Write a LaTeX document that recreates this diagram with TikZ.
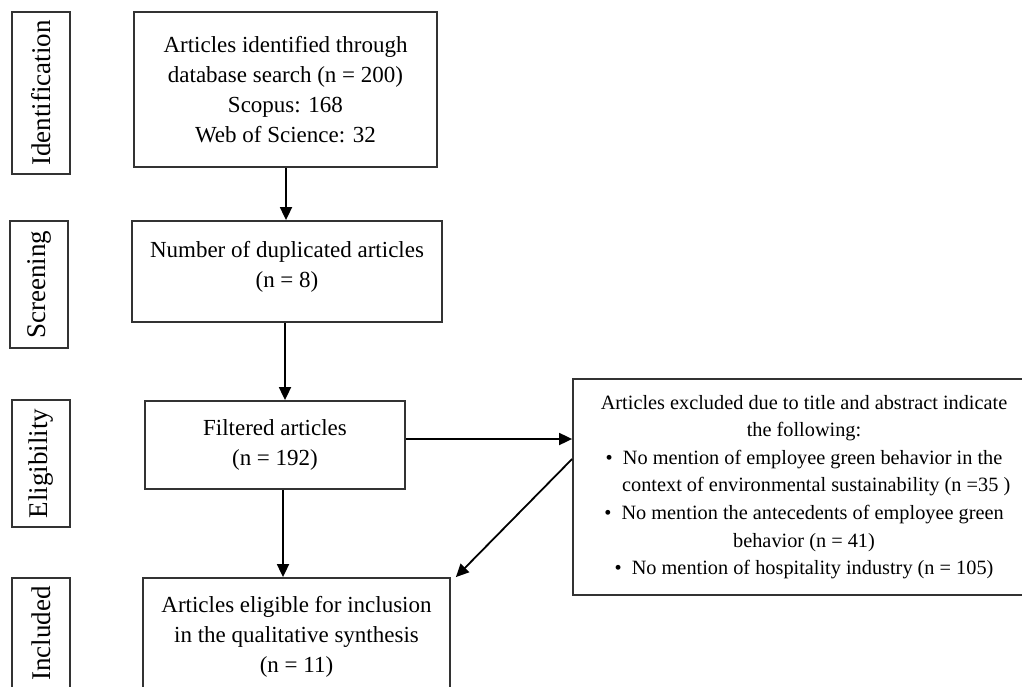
\documentclass[tikz,border=0pt]{standalone}
\usepackage{fontspec}
\setmainfont{Liberation Serif}
\usepackage{tikz}
\usetikzlibrary{arrows.meta,positioning,calc}

\begin{document}
\begin{tikzpicture}[x=1pt,y=-1pt,
        BoxStyle/.style = { rectangle, draw = black!80, line width = 1.8pt,
          inner sep = 0pt, align = center,
          font = \fontsize{23}{30}\selectfont },
        PhaseStyle/.style = { BoxStyle, rotate = 90,
          minimum height = 58pt, font = \fontsize{27}{30}\selectfont },
        ExclStyle/.style = { BoxStyle, font = \fontsize{20.3}{27.6}\selectfont },
        EdgeStyle/.style = { line width = 1.8pt,
          -{Triangle[length=13pt, width=12pt]} }
      ]
      \clip (0,0) rectangle (1022,687);
      \useasboundingbox (0,0) rectangle (1022,687);
      % phases
      \node[PhaseStyle, minimum width = 162pt] (PIden) at (41,93) {Identification};
      \node[PhaseStyle, minimum width = 127pt] (PScr) at (39,284.5) {Screening};
      \node[PhaseStyle, minimum width = 127pt] (PElig) at (41,463.5) {Eligibility};
      \node[PhaseStyle, minimum width = 127pt] (PIncl) at (41,641.5) {\hspace*{16pt}Included};
      % boxes
      \node[BoxStyle, minimum width = 303pt, minimum height = 155pt] (Ident) at (285.5,89.5)
        {Articles identified through\\ database search (n = 200)\\ Scopus: 168\\ Web of Science: 32};
      \node[BoxStyle, minimum width = 310pt, minimum height = 101pt] (Dupl) at (287,271.5)
        {Number of duplicated articles\\ (n = 8)\\[-15pt]};
      \node[BoxStyle, minimum width = 260pt, minimum height = 88pt] (Filt) at (275,445)
        {Filtered articles\\ (n = 192)};
      \node[BoxStyle, minimum width = 307pt, minimum height = 118pt] (Incl) at (296.5,637)
        {Articles eligible for inclusion\\ in the qualitative synthesis\\ (n = 11)};
      \node[ExclStyle, minimum width = 462pt, minimum height = 216pt] (Excl) at (804,487)
        {Articles excluded due to title and abstract indicate\\ the following:\\
         \textbullet\enspace No mention of employee green behavior in the\\
         \hspace*{1.2em}context of environmental sustainability (n =35 )\\
         \textbullet\enspace No mention the antecedents of employee green\\
         behavior (n = 41)\\
         \textbullet\enspace No mention of hospitality industry (n = 105)};
      % connectors
      \draw[EdgeStyle] ([xshift=0.5pt]Ident.south) -- ([xshift=0.5pt]Ident.south |- Dupl.north);
      \draw[EdgeStyle] ([xshift=-2pt]Dupl.south) -- ([xshift=-2pt]Dupl.south |- Filt.north);
      \draw[EdgeStyle] ([xshift=8pt]Filt.south) -- ([xshift=8pt]Filt.south |- Incl.north);
      \draw[EdgeStyle] ([yshift=6pt]Filt.east) -- ([yshift=6pt]Filt.east -| Excl.west);
      \draw[EdgeStyle] ([yshift=28pt]Excl.west) -- ([xshift=5pt]Incl.north east);
    \end{tikzpicture}
\end{document}
